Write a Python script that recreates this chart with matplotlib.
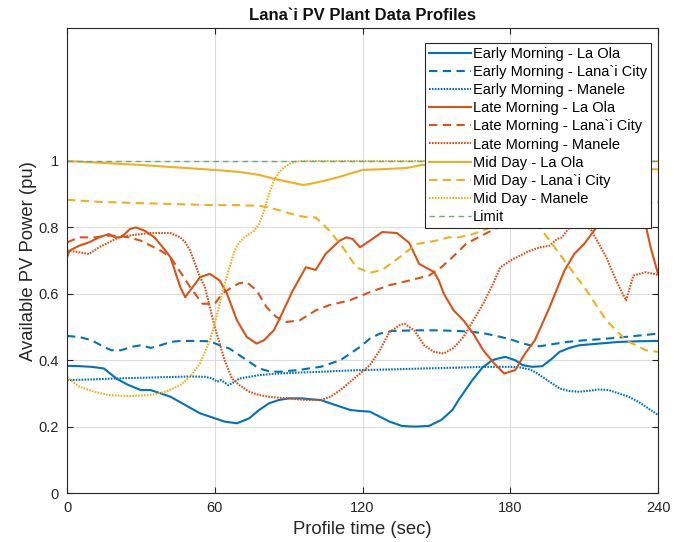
import matplotlib
matplotlib.use("Agg")
import matplotlib.pyplot as plt

plt.rcParams['font.family'] = ['Liberation Sans', 'DejaVu Sans']

# ====================================
# PROFILE DATA (time in sec, power in pu)
# ====================================

em_laola_t = [0, 5, 10, 15, 20, 25, 30, 34, 42, 48, 54, 60, 64, 69, 74, 78, 82, 86, 90, 95.7,
              98, 103, 107, 111, 115, 119, 123, 127, 131, 136, 141, 147, 152, 156.5, 159, 164.6,
              168.6, 172.7, 175, 178, 182, 185, 189, 193, 197, 200, 204, 208, 216, 224, 232, 240]
em_laola = [0.383, 0.382, 0.38, 0.375, 0.345, 0.325, 0.31, 0.31, 0.29, 0.265, 0.24, 0.225, 0.215,
            0.21, 0.225, 0.25, 0.27, 0.28, 0.285, 0.285, 0.283, 0.28, 0.27, 0.26, 0.25, 0.247,
            0.245, 0.23, 0.215, 0.202, 0.2, 0.202, 0.22, 0.25, 0.28, 0.34, 0.377, 0.40, 0.405,
            0.41, 0.40, 0.385, 0.38, 0.382, 0.405, 0.425, 0.437, 0.445, 0.45, 0.455, 0.457, 0.458]

em_lanai_t = [0, 5, 10, 15, 18, 22, 26, 30, 34, 38, 42, 46, 52, 58, 62, 66, 70, 74, 78, 82, 86,
              90, 94, 98, 103, 107, 111, 115, 119, 123, 127, 132, 141, 150, 159, 165, 170, 175,
              180, 184, 188, 192, 197, 203, 210, 216, 224, 232, 240]
em_lanai = [0.473, 0.47, 0.46, 0.44, 0.43, 0.43, 0.44, 0.445, 0.437, 0.445, 0.455, 0.458, 0.458,
            0.457, 0.445, 0.435, 0.415, 0.395, 0.375, 0.367, 0.365, 0.368, 0.37, 0.375, 0.38,
            0.39, 0.40, 0.42, 0.44, 0.465, 0.48, 0.488, 0.49, 0.49, 0.488, 0.485, 0.48, 0.472,
            0.463, 0.453, 0.445, 0.442, 0.448, 0.455, 0.46, 0.463, 0.468, 0.474, 0.48]

em_manele_t = [0, 10, 20, 30, 40, 50, 56, 59, 61, 62.5, 64, 65.5, 67, 68.5, 70, 74, 78, 86, 95,
               103, 111, 119, 130, 140, 150, 160, 170, 180, 184, 188, 191, 194, 197, 200, 204,
               208, 212, 216, 220, 224, 228, 232, 236, 240]
em_manele = [0.34, 0.342, 0.345, 0.347, 0.349, 0.351, 0.35, 0.345, 0.335, 0.34, 0.333, 0.325,
             0.33, 0.338, 0.345, 0.35, 0.355, 0.36, 0.363, 0.365, 0.368, 0.37, 0.372, 0.374,
             0.376, 0.378, 0.38, 0.38, 0.378, 0.372, 0.36, 0.345, 0.33, 0.315, 0.307, 0.305,
             0.308, 0.312, 0.31, 0.30, 0.29, 0.275, 0.255, 0.235]

lm_laola_t = [0, 1, 5, 9, 13, 17, 19.5, 21.5, 23.5, 25.5, 28, 31.5, 35.5, 40, 42, 46, 48, 51, 54,
              58, 62, 65, 69, 73, 77, 80, 84, 86, 91.7, 97, 101, 105, 110.7, 113.5, 116, 119,
              123, 128, 134, 139, 143, 146, 149, 151, 153, 157, 161, 165, 169, 173.5, 177.5,
              182, 186, 190, 196, 202, 206, 210, 214, 218, 222, 226, 230, 234, 237, 240]
lm_laola = [0.71, 0.73, 0.745, 0.755, 0.77, 0.78, 0.77, 0.77, 0.78, 0.795, 0.80, 0.79, 0.77,
            0.73, 0.71, 0.62, 0.59, 0.62, 0.65, 0.66, 0.64, 0.60, 0.52, 0.47, 0.45, 0.46, 0.49,
            0.52, 0.61, 0.68, 0.672, 0.72, 0.76, 0.77, 0.765, 0.74, 0.76, 0.786, 0.783, 0.753,
            0.69, 0.678, 0.666, 0.64, 0.60, 0.55, 0.52, 0.48, 0.43, 0.39, 0.36, 0.37, 0.42,
            0.46, 0.56, 0.67, 0.72, 0.75, 0.79, 0.83, 0.87, 0.90, 0.90, 0.84, 0.74, 0.66]

lm_lanai_t = [0, 5, 11, 17, 21, 25, 30, 34, 38, 42, 46, 50, 55, 60, 63, 67, 70, 73, 77, 81, 85,
              89, 94.5, 101, 106.6, 114.7, 123, 131, 139, 147, 152, 156.5, 162, 167, 175, 185,
              195, 205, 215, 225, 232, 240]
lm_lanai = [0.755, 0.77, 0.77, 0.775, 0.775, 0.77, 0.76, 0.745, 0.73, 0.71, 0.666, 0.62, 0.57,
            0.57, 0.60, 0.62, 0.632, 0.635, 0.61, 0.56, 0.53, 0.515, 0.52, 0.55, 0.566, 0.58,
            0.605, 0.626, 0.64, 0.655, 0.68, 0.71, 0.75, 0.77, 0.80, 0.82, 0.84, 0.85, 0.86,
            0.87, 0.872, 0.875]

lm_manele_t = [0, 5, 9, 13, 17, 21, 25, 30, 34, 38, 42, 46, 48, 50, 52, 54, 56, 58, 60, 64, 67,
               70, 74, 78, 82, 86, 90, 94, 98, 103, 107, 111, 115, 119, 123, 127, 131, 135, 137,
               141, 145, 149, 153, 157, 161, 165, 169, 173, 176, 180, 184, 188, 192, 196, 199,
               201, 204, 207, 210, 213, 216, 219, 223, 227, 230, 235, 240]
lm_manele = [0.73, 0.725, 0.72, 0.74, 0.755, 0.77, 0.775, 0.78, 0.783, 0.783, 0.783, 0.77,
             0.755, 0.73, 0.69, 0.65, 0.62, 0.56, 0.50, 0.40, 0.345, 0.325, 0.305, 0.295, 0.29,
             0.287, 0.285, 0.282, 0.28, 0.28, 0.29, 0.31, 0.335, 0.36, 0.385, 0.43, 0.485,
             0.505, 0.51, 0.49, 0.445, 0.425, 0.42, 0.437, 0.47, 0.52, 0.57, 0.63, 0.68, 0.70,
             0.715, 0.73, 0.74, 0.745, 0.765, 0.77, 0.80, 0.82, 0.81, 0.79, 0.75, 0.71, 0.64,
             0.58, 0.655, 0.665, 0.657]

md_laola_t = [0, 30, 60, 70, 78, 86, 95.7, 98, 103, 107, 111, 115, 120, 130, 138, 144, 150, 165,
              180, 195, 210, 225, 240]
md_laola = [1.0, 0.988, 0.973, 0.967, 0.958, 0.943, 0.928, 0.93, 0.938, 0.945, 0.953, 0.962,
            0.973, 0.976, 0.979, 0.988, 0.99, 0.99, 0.985, 0.98, 0.978, 0.976, 0.975]

md_lanai_t = [0, 13, 30, 60, 70, 78, 82, 86, 90, 94, 98, 101, 106.6, 112, 117.5, 123, 128, 135,
              142, 147, 151, 155, 159, 165, 172, 178, 184, 189, 193, 198, 203, 207, 211, 215,
              219, 223, 227, 231, 235, 240]
md_lanai = [0.883, 0.877, 0.873, 0.867, 0.867, 0.865, 0.86, 0.852, 0.843, 0.835, 0.83, 0.83,
            0.79, 0.74, 0.68, 0.663, 0.672, 0.71, 0.75, 0.756, 0.762, 0.77, 0.77, 0.78, 0.80,
            0.82, 0.83, 0.82, 0.79, 0.74, 0.69, 0.65, 0.61, 0.565, 0.52, 0.49, 0.46, 0.445,
            0.43, 0.425]

md_manele_t = [0, 5, 11, 17, 25, 34, 40, 46, 50, 54, 58, 60, 62, 64, 66, 68, 70, 72, 74, 76, 78,
               80, 82, 84, 86, 88, 90, 92, 95, 120, 150, 180, 210, 240]
md_manele = [0.35, 0.32, 0.305, 0.295, 0.292, 0.295, 0.305, 0.325, 0.35, 0.39, 0.46, 0.51, 0.57,
             0.63, 0.68, 0.73, 0.755, 0.77, 0.78, 0.79, 0.81, 0.85, 0.90, 0.94, 0.965, 0.98,
             0.99, 0.997, 1.0, 1.0, 1.0, 1.0, 1.0, 1.0]

limit_t = [0, 240]
limit = [1.0, 1.0]

# ====================================
# STYLES
# ====================================

blue = '#0072BD'
orange = '#D95319'
yellow = '#EDB120'
green = '#6aaa78'

solid = '-'
dashed = (0, (4, 2.6))
dotted = (0, (0.8, 0.6))

series = [
    (em_laola_t, em_laola, blue, solid, 'Early Morning - La Ola'),
    (em_lanai_t, em_lanai, blue, dashed, 'Early Morning - Lana`i City'),
    (em_manele_t, em_manele, blue, dotted, 'Early Morning - Manele'),
    (lm_laola_t, lm_laola, orange, solid, 'Late Morning - La Ola'),
    (lm_lanai_t, lm_lanai, orange, dashed, 'Late Morning - Lana`i City'),
    (lm_manele_t, lm_manele, orange, dotted, 'Late Morning - Manele'),
    (md_laola_t, md_laola, yellow, solid, 'Mid Day - La Ola'),
    (md_lanai_t, md_lanai, yellow, dashed, 'Mid Day - Lana`i City'),
    (md_manele_t, md_manele, yellow, dotted, 'Mid Day - Manele'),
]

# ====================================
# PLOT
# ====================================

fig = plt.figure(figsize=(6.86, 5.42), dpi=100)
ax = fig.add_axes([0.0977, 0.0904, 0.8615, 0.8576])

for t, v, c, ls, name in series:
    ax.plot(t, v, color=c, linestyle=ls, linewidth=1.5, label=name)

ax.plot(limit_t, limit, color=green, linestyle=(0, (4, 3)), linewidth=1.0, label='Limit')

ax.set_xlim(0, 240)
ax.set_ylim(0, 1.4)
ax.set_xticks([0, 60, 120, 180, 240])
ax.set_yticks([0, 0.2, 0.4, 0.6, 0.8, 1.0])
ax.set_yticklabels(['0', '0.2', '0.4', '0.6', '0.8', '1'])

ax.grid(True, color='#dcdcdc', linewidth=0.8)
ax.set_axisbelow(True)
ax.tick_params(direction='in', top=True, right=True, length=4, width=0.8,
               colors='#262626', labelsize=10.5, pad=6)
for sp in ax.spines.values():
    sp.set_color('#262626')
    sp.set_linewidth(0.8)

ax.set_title('Lana`i PV Plant Data Profiles', fontsize=12, fontweight='bold',
             color='#111111', pad=6)
ax.set_xlabel('Profile time (sec)', fontsize=13.3, color='#262626', labelpad=4)
ax.set_ylabel('Available PV Power (pu)', fontsize=13.3, color='#262626', labelpad=1)

leg = ax.legend(loc='upper right', bbox_to_anchor=(0.988, 0.968), borderaxespad=0,
                fontsize=10.5, handlelength=2.85, handletextpad=0.12, labelspacing=0.28,
                borderpad=0.28, fancybox=False, framealpha=1, edgecolor='#262626')
leg.get_frame().set_linewidth(0.8)

plt.savefig('out.png', dpi=100)
plt.close()
